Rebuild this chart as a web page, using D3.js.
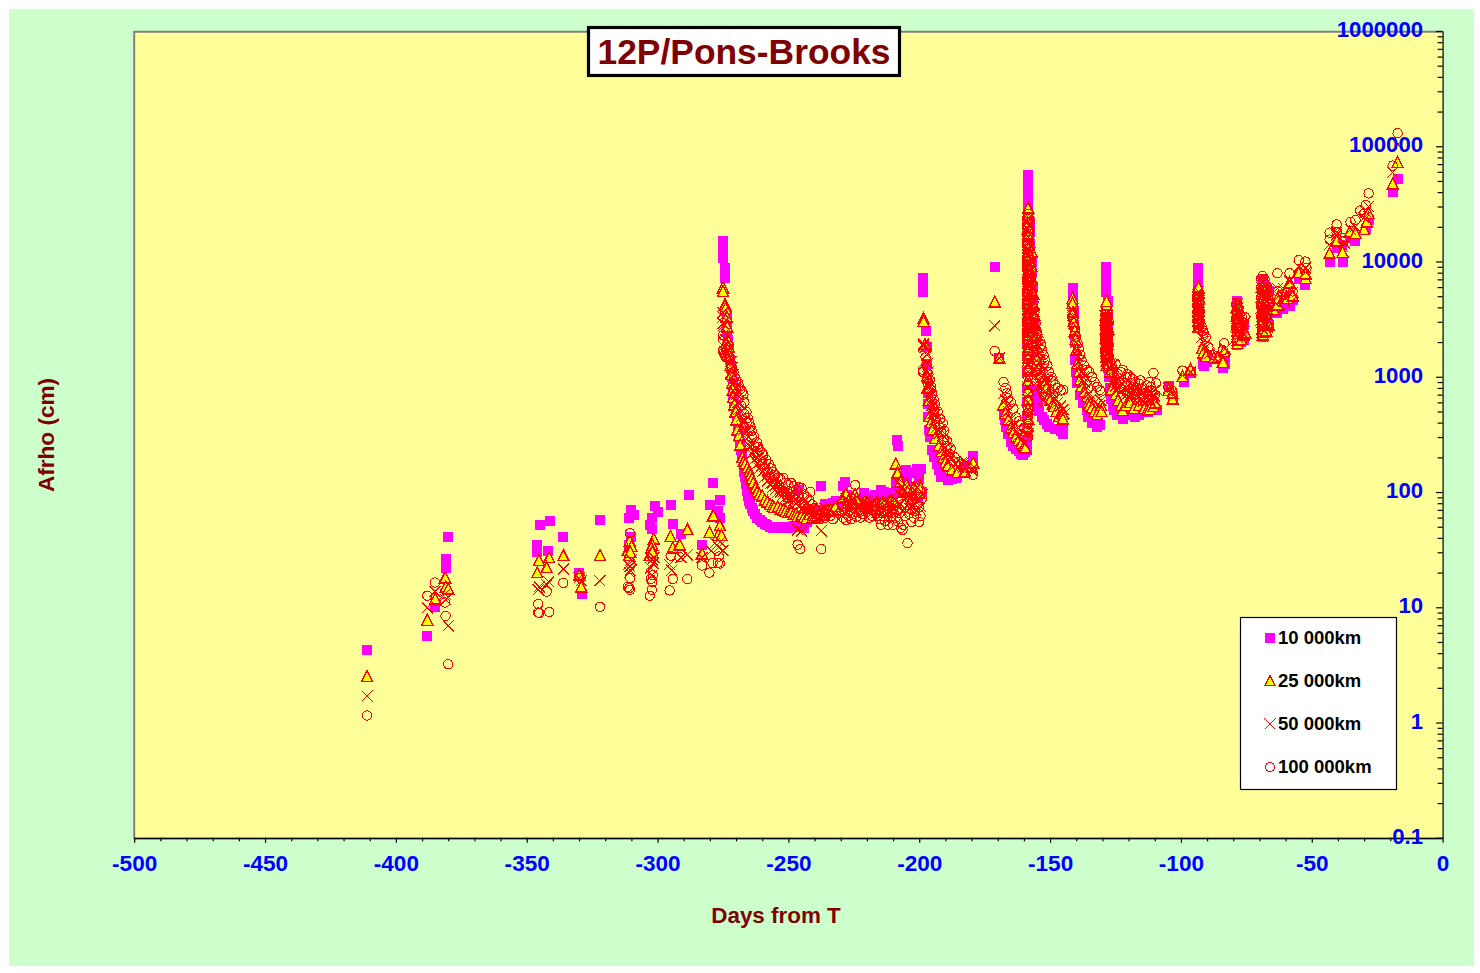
<!DOCTYPE html>
<html><head><meta charset="utf-8">
<style>html,body{margin:0;padding:0;background:#fff}svg{display:block}text{font-family:"Liberation Sans",Arial,sans-serif;font-weight:bold}</style>
<script src="https://cdn.jsdelivr.net/npm/d3@7"></script>
</head><body><div id="c"></div>
<script>
const titleText="12P/Pons-Brooks", xTitle="Days from T", yTitle="Afrho (cm)";
const xMajor=[-500,-450,-400,-350,-300,-250,-200,-150,-100,-50,0];
const yMajor=[0.1,1,10,100,1000,10000,100000,1000000];
const legendLabels=["10 000km","25 000km","50 000km","100 000km"];
// [days from T, Afrho cm]
const aperture10k=[[-411,4.27],[-388,5.6],[-385,10],[-381,26],[-381,22],[-380,41],[-345,52],[-341,56],[-346,35],[-346,30],[-342,31],[-336,41],[-330,20],[-329,13],[-322,57],[-310,70],[-311,60],[-309,63],[-311,35],[-310,41],[-301,76],[-300,67],[-302,60],[-303,52],[-302,48],[-295,77],[-294,53],[-291,43],[-288,95],[-283,35],[-280,77],[-279,120],[-276,85],[-277,68],[-276,60],
[-275,15000],[-275,13700],[-275,12100],[-275,10800],[-274.4,8800],[-274.4,8000],[-274.4,7200],[-273.6,3400],[-273.6,2950],[-273.3,2500],[-273,2100],[-272.6,1800],[-272.2,1400],[-272,1200],[-271.7,1000],[-271.3,810],[-271,690],[-270.6,600],[-270.2,495],[-269.8,420],[-269.4,345],[-269,300],[-268.6,265],[-268.2,232],[-267.8,205],[-267,150],[-266.6,134],[-266.2,118],[-265.8,102],[-265.5,92],[-265,84],[-264.5,78],[-264,72],[-263.4,68],[-262.8,64],[-262,60],[-261,57],[-260,55],[-259,53],[-258,52],[-257,50],[-256,49],[-255,50],[-254,49],[-253,49],[-252,50],[-251,50],[-250,49],[-249,50],[-248,51],[-247,50],[-246.5,104],[-246,53],[-245,51],[-244,49],[-243,55],[-242,58],[-241,60],[-240,62],[-239,70],[-238,66],[-237.4,113],[-236,78],[-235,72],[-233,80],[-232,84],[-231,76],
[-229.3,113],[-228.2,122],[-227.5,95],[-226.5,90],[-225.5,88],[-224,82],[-222.5,85],[-221,98],[-220,90],[-219,72],[-218,80],[-217,94],[-215.5,88],[-214.8,104],[-213.5,100],[-212.5,92],[-212,80],[-211,85],[-210,98],[-209,120],[-208.5,280],[-208,250],[-207,110],[-206,130],[-205,155],[-204.5,125],[-204,110],[-203,145],[-202,100],[-201,160],[-200.5,90],[-200,130],[-199.5,160],[-199,100],
[-198.6,7200],[-198.6,6600],[-198.6,5900],[-198.6,5400],[-197.4,2500],[-197.2,1800],[-197,1300],[-196.9,950],[-196.8,720],[-196.7,580],[-196.5,450],[-196.3,345],[-195.8,300],[-195,232],[-194.3,200],[-193.4,175],[-192.6,155],[-191.5,135],[-189.2,127],[-187.5,130],[-186,133],[-185.4,135],[-184,150],[-182.5,165],[-179.3,205],[-179.3,195],
[-171.2,8900],[-169.4,1450],[-167.8,470],[-167.3,420],[-166.8,370],[-166,320],[-165.1,270],[-164,250],[-163,238],[-162,225],[-161,215],[-160.3,210],[-159.5,222],
[-158.5,56000],[-158.5,50000],[-158.5,44000],[-158.5,38000],[-158.5,33000],[-158.5,28000],[-158.5,22000],[-158.5,16000],[-158.5,12000],[-158.5,9000],[-158.5,7000],[-158.5,5000],[-158.5,3800],[-158.3,2800],[-158.9,2000],[-158.9,1500],[-158.9,1100],[-158.9,800],[-158.9,600],[-158.9,450],[-158.9,350],[-158.9,280],[-158.9,230],[-157.5,22000],[-157.5,18000],[-157.5,14000],[-157,10000],[-157,8000],[-156.5,6000],[-156.5,4500],[-156,3000],[-156,2200],[-155.6,1500],[-155.6,1100],[-155.6,770],[-155,640],[-154.5,550],[-154.4,500],[-153,450],[-152.5,420],[-151,390],[-150.6,370],[-148,350],[-146,340],[-145,340],[-144.9,345],[-144.9,320],
[-141.4,5900],[-141.4,5200],[-141.4,4600],[-141,3700],[-140.8,2800],[-140.6,2000],[-140.3,1400],[-140,1100],[-139.6,880],[-138.5,700],[-137.5,590],[-136,510],[-135.5,445],[-134,400],[-132,365],[-131,380],
[-128.5,8900],[-128.5,7800],[-128.5,6700],[-128.5,5900],[-128.5,5400],[-128,4500],[-128,3500],[-128,2600],[-128,2000],[-127.8,1500],[-127.8,1200],[-127.5,1000],[-127,800],[-126.9,640],[-126,560],[-125.7,510],[-124.5,470],[-122.3,430],[-120,470],[-119,480],[-117.5,450],[-116,470],[-114,490],[-112.6,495],[-110,520],[-109,510],
[-104.7,830],[-103.2,680],[-99,900],[-96.3,1080],
[-93.3,8700],[-93.3,7800],[-93.3,7000],[-93.3,6000],[-93.3,5200],[-93.3,4500],[-93.3,3900],[-93.3,3500],[-93.3,3100],[-91.5,1300],[-91,1250],[-90,1350],[-88,1450],[-84,1200],[-83,1300],[-83,1500],
[-78.4,4500],[-78.4,4200],[-78.4,3800],[-78.4,3500],[-78.4,3200],[-78.4,2900],[-78.4,2600],[-78.4,2300],[-78.4,2100],[-78.4,1900],[-77,2000],[-77,2500],[-76,2100],[-76,2800],
[-68.8,7000],[-68.8,6400],[-68.8,5800],[-68.8,5200],[-68.8,4800],[-68.8,4300],[-68.8,3900],[-68.8,3500],[-68.8,3100],[-68.8,2800],[-68.8,2500],[-68.8,2200],[-67.5,6000],[-67.5,5000],[-67.5,4000],[-67.5,3000],[-67.5,2400],[-66.5,5500],[-66.5,3800],[-66.5,2800],[-63.1,3600],[-63.1,4200],[-60.8,3900],[-60.8,4500],[-58.5,4100],[-58.5,5000],[-57.3,4600],
[-55,7000],[-52.4,6200],[-52.4,7000],[-43.2,10000],[-40.5,13000],[-38.2,10000],[-38.5,14000],[-35.2,16000],[-33.3,15000],[-29.4,19000],[-28.3,23000],[-19.1,40000],[-17.2,52000]];
const aperture25k=[[-411,2.5],[-388,7.7],[-385,11.8],[-381.2,18],[-381,15],[-380,14.4],[-345.3,25.4],[-346,19.9],[-341.4,27],[-342.4,22],[-336,28],[-330,19],[-329.2,15],[-322,28],[-310.6,37.7],[-311.4,31],[-310,33.6],[-310.8,28],[-310.4,30],[-301.4,39],[-302,34.7],[-302.4,32.7],[-303,28],[-302,30],[-295,41],[-294.2,32.7],[-291.6,34.7],[-288.6,47],[-283,29],[-280.2,44.5],[-278.8,62],[-276.2,51],[-276.8,42],[-275.6,42],
[-275,5900],[-275,5500],[-274.2,4200],[-274,3900],[-273.6,3300],[-273.4,2700],[-273.2,2100],[-272.8,1800],[-272.5,1500],[-272.2,1250],[-271.8,1050],[-271.5,880],[-271.3,770],[-271.1,660],[-270.6,570],[-270.2,495],[-269.9,420],[-269.5,345],[-268.9,310],[-268.4,255],[-267.6,200],[-267,185],[-266.4,175],[-265.7,163],[-265,150],[-264.5,140],[-263.9,130],[-263.4,120],[-262.6,108],[-262,100],[-261,95],[-260,92],[-259,85],[-258,82],[-257,78],[-256,75],[-255.5,73],[-254,74],[-253,71],[-252,70],[-251,68],[-250,66],[-249,67],[-248,64],[-247,64],[-246.5,61],[-245,63],[-244,60],[-243,59],[-242,64],[-241,59],[-240,60],[-239,62],[-238,65],[-237,63],[-236,66],[-235,68],[-234,70],[-233,70],[-232,75],
[-229,90],[-228,95],[-227,85],[-226,80],[-225,92],[-224.5,95],[-224,88],[-222,75],[-221,82],[-220,80],[-219,72],[-218,76],[-217,78],[-216,82],[-215,75],[-214,82],[-212,78],[-211,82],[-210,82],[-209,175],[-208.3,146],[-207.2,122],[-206,100],[-205,115],[-204,104],[-203,88],[-202,110],[-201,95],[-200,98],[-199.5,110],
[-198.4,3200],[-198.4,3000],[-197.8,1900],[-197,1000],[-196.8,800],[-196.4,620],[-196.1,450],[-195.5,400],[-195,345],[-194,290],[-192.6,250],[-191.5,225],[-190.7,200],[-190,180],[-189.2,168],[-187.5,155],[-185.4,147],[-183,147],[-182.4,150],[-180,165],[-179.3,178],
[-171.2,4450],[-169.4,1450],[-167.8,570],[-167,480],[-166,420],[-165,360],[-164,330],[-163.2,300],[-162,280],[-161,260],[-160,245],[-159.5,240],
[-158.4,370],[-158.4,430],[-158.4,520],[-158.4,630],[-158.4,760],[-158.4,930],[-158.4,1150],[-158.4,1450],[-158.4,1700],[-158.4,2000],[-158.4,2150],[-158.4,2330],[-158.3,2480],[-158.4,2640],[-158.3,2790],[-158.4,3000],[-158.3,3170],[-158.4,3400],[-158.3,3590],[-158.4,3850],[-158.3,4050],[-158.4,4350],[-158.3,4600],[-158.4,4950],[-158.3,5200],[-158.4,5600],[-158.3,5900],[-158.4,6300],[-158.3,6700],[-158.4,7150],[-158.3,7500],[-158.4,8000],[-158.3,8500],[-158.4,9100],[-158.3,9500],[-158.4,10200],[-158.3,10700],[-158.4,11500],[-158.3,12100],[-158.4,13000],[-158.3,13800],[-158.4,14600],[-158.3,15500],[-158.4,16500],[-158.3,17300],[-158.4,18600],[-158.3,19500],[-158.4,20900],[-158.4,22200],[-158.4,23600],[-158.4,25000],[-158.4,26500],[-158.4,29000],
[-157,12000],[-157,9000],[-157,7000],[-156.5,5200],[-156.5,4200],[-156,3400],[-156,2800],[-155.5,2300],[-155,1800],[-154.5,1500],[-154.4,1150],[-153.5,1050],[-152.5,940],[-152,880],[-151.5,800],[-150.6,670],[-150,620],[-149,580],[-148.6,550],[-147.5,500],[-146.7,450],[-145.5,480],[-145,470],[-145.2,430],
[-141.4,4800],[-141.4,4300],[-141.2,3600],[-141,3000],[-140.6,2500],[-140.3,2100],[-140,1700],[-139.6,1300],[-139,1100],[-138.7,940],[-138,820],[-137,740],[-136,670],[-135.5,590],[-135,560],[-134,535],[-133,500],[-132,470],[-130.5,560],[-130.3,500],
[-128.4,1250],[-128.3,1370],[-128.4,1480],[-128.3,1600],[-128.4,1700],[-128.3,1850],[-128.4,1960],[-128.3,2100],[-128.4,2230],[-128.3,2400],[-128.4,2550],[-128.3,2720],[-128.4,2900],[-128.3,3080],[-128.4,3270],[-128.3,3480],[-128.4,3700],[-128.4,3950],[-128.4,4200],[-128.4,4500],[-127.5,1300],[-127,1100],[-126.5,770],[-125,700],[-124,620],[-123,560],[-122.3,510],[-121,560],[-119.5,600],[-118,530],[-116,560],[-114,530],[-113,510],[-112,520],[-110.5,550],[-109.8,590],
[-104.8,760],[-103.2,640],[-103.2,720],[-99.4,1000],[-96.3,1150],
[-93.3,2700],[-93.2,2880],[-93.3,3050],[-93.2,3260],[-93.3,3450],[-93.2,3700],[-93.3,3900],[-93.2,4180],[-93.3,4420],[-93.2,4700],[-93.3,5000],[-93.2,5300],[-93.3,5650],[-93.3,6000],[-92,1750],[-91.5,1600],[-90.5,1500],[-87.5,1450],[-86,1450],[-84,1330],[-83.5,1650],
[-78.4,1950],[-78.3,2080],[-78.4,2210],[-78.3,2360],[-78.4,2500],[-78.3,2680],[-78.4,2830],[-78.3,3020],[-78.4,3210],[-78.3,3430],[-78.4,3650],[-78.4,3900],[-78.4,4100],[-77,2100],[-76,2300],[-75.5,2400],
[-68.8,2300],[-68.7,2450],[-68.8,2600],[-68.7,2780],[-68.8,2950],[-68.7,3150],[-68.8,3340],[-68.7,3560],[-68.8,3800],[-68.7,4050],[-68.8,4300],[-68.7,4580],[-68.8,4850],[-68.7,5150],[-68.8,5500],[-68.8,6000],[-67.4,2500],[-67.4,3000],[-66.5,2800],[-64.5,3800],[-63.1,4200],[-63.1,4800],[-60.8,4900],[-59.3,4800],[-58.5,6500],[-57.3,5000],
[-55,8000],[-52.4,7100],[-52.4,7800],[-43.2,11800],[-40.5,15000],[-38.2,12000],[-35.5,18000],[-33.3,17500],[-30,19000],[-29,22000],[-28.3,26000],[-19.1,47000],[-17.2,72000]];
const aperture50k=[[-411,1.7],[-388,9.9],[-385,13.7],[-381.2,13],[-381,11.6],[-380,6.9],[-345.6,14.2],[-345.2,15],[-342.4,15.7],[-341.6,16.6],[-336,21.5],[-330,18],[-329.2,17],[-322,17],[-310.6,22.5],[-311.2,23.5],[-310,25.8],[-310.4,21],[-310.8,20],[-301.4,27],[-302,25.8],[-302.6,22],[-302.2,19],[-301.8,24],[-295.4,23.5],[-294.6,21],[-291,27],[-288.6,28.5],[-283,27],[-279.5,31],[-278,36],[-276,37],[-276.8,33],[-275,31],
[-275,3600],[-275,3300],[-275,2900],[-274.6,2800],[-274.2,2400],[-273.8,2100],[-273.4,1900],[-273,1700],[-272.6,1500],[-272,1350],[-271.6,1200],[-271,1050],[-270.6,900],[-270.2,800],[-269.8,700],[-269.4,600],[-269,520],[-268,450],[-267.5,400],[-267,350],[-266.5,320],[-266,290],[-265.5,260],[-265,240],[-264,215],[-263,190],[-262,175],[-261,160],[-260,150],[-259,135],[-258,125],[-257,118],[-256,110],[-255,105],[-254,100],[-253,100],[-252,95],[-251,90],[-250,92],[-249,88],[-248,84],[-247,87],[-246.5,47],[-245,46],[-244,82],[-243,78],[-242,75],[-241,72],[-240,68],[-239,65],[-238,70],[-237.4,46],[-236,72],[-235,68],[-234,72],[-233,65],
[-272,1100],[-271,860],[-270,720],[-269,600],[-268,510],[-267,410],[-266,340],[-265,300],[-264,260],[-263,230],[-262,200],[-261,180],[-260,170],[-259,155],[-258,140],[-257,130],[-256,120],[-255,115],[-254,110],[-253,108],[-252,100],[-251,102],[-250,85],[-249,95],[-248,90],[-247,80],[-246,75],[-245,72],[-244,70],[-243,68],[-242,66],[-241,64],
[-229,78],[-228,88],[-227,75],[-226,82],[-225,72],[-224,90],[-223,78],[-222,68],[-221,75],[-220,72],[-219,68],[-218,72],[-217,70],[-216,78],[-215,70],[-214,75],[-213,72],[-212,72],[-211,68],[-210,75],[-209,85],[-208,120],[-207,95],[-206,105],[-205,88],[-204,78],[-203,90],[-202,80],[-201,110],[-200,88],[-199.5,75],
[-229.5,70],[-228.5,66],[-227.5,82],[-226.5,70],[-225.5,84],[-224.5,68],[-223.5,88],[-222.5,74],[-221.5,66],[-220.5,84],[-219.5,76],[-218.5,64],[-217.5,80],[-216.5,66],[-215.5,82],[-214.5,64],[-213.5,84],[-212.5,66],[-211.5,78],[-210.5,62],[-209.5,72],[-208.5,100],[-207.5,80],[-206.5,68],[-205.5,115],[-204.5,98],[-203.5,72],[-202.5,100],[-201.5,70],[-200.5,125],[-200,72],[-199,95],
[-198.4,1900],[-198.4,1950],[-198.4,1850],[-197.8,1800],[-197,1300],[-196.6,1100],[-196,900],[-195.5,750],[-195,620],[-194.5,520],[-194,470],[-193,400],[-192,350],[-191,310],[-190,270],[-189,230],[-188,200],[-186,175],[-185,165],[-183,165],[-182,160],[-180,155],
[-197.2,1550],[-196.8,1000],[-196.4,820],[-195.8,680],[-195.2,560],[-194.8,480],[-194.2,420],[-193.5,360],[-192.5,320],[-191.5,280],[-190.5,240],[-189.5,210],[-188.5,185],[-184,180],[-183.5,170],[-182.5,185],
[-171.2,2770],[-169.4,1450],[-167.8,720],[-167,630],[-166.5,560],[-166,500],[-165,430],[-164,380],[-163,340],[-162,310],[-161,285],[-160,265],
[-158.5,15000],[-158.5,13000],[-158.5,11500],[-158.5,10000],[-158.5,9000],[-158.5,8000],[-158.5,7000],[-158.5,6200],[-158.5,5500],[-158.5,4800],[-158.5,4300],[-158.5,3800],[-158.5,3300],[-158.5,2900],[-158.5,2600],[-158.5,2300],[-158.5,2000],[-158.5,1800],[-158.5,1600],[-158.5,1400],[-158.5,1250],[-158.5,1100],[-158.5,950],[-158.5,820],[-158.5,700],[-158.5,600],[-158.5,520],[-158.5,450],[-158.5,380],[-158.5,320],[-157.5,12000],[-157.5,10000],[-157.5,8500],[-157,7000],[-157,6000],[-156.5,5000],[-156.5,4200],[-156,3500],[-156,3000],[-155.5,2700],[-155.5,2300],[-155,2100],[-155,1900],[-154.5,1800],[-154,1600],[-153.5,1400],[-153,1250],[-152.5,1150],[-152,1050],[-151.5,950],[-151,880],[-150,800],[-149,720],[-148,650],[-147,600],[-146,560],[-145,520],[-144.5,480],
[-158.2,24000],[-158.6,22000],[-158.1,20500],[-158.7,19000],[-158.2,17800],[-158.6,16500],[-158.1,14100],[-158.7,12300],[-158.2,10800],[-158.6,9500],[-158.1,8500],[-158.7,7500],[-158.2,6600],[-158.6,5900],[-158.1,5100],[-158.7,4500],[-158.2,4000],[-158.6,3500],[-158.1,3100],[-158.7,2750],[-158.2,2450],[-158.6,2150],[-158.1,1900],[-157.9,11000],[-157.6,9300],[-157.9,7700],[-157.4,6400],[-157.8,5400],[-157.2,4600],[-157.7,3900],[-157.2,3300],[-157.5,2850],[-157,2500],[-157.4,2100],[-156.6,1700],[-157,1500],[-156.4,1300],[-156,1150],[-155.6,1000],[-155,900],[-154.5,830],[-154,760],[-153.4,700],[-152.6,640],[-152,600],
[-141.4,3800],[-141.4,3400],[-141,2900],[-140.6,2400],[-140.2,2000],[-139.8,1700],[-139.4,1500],[-139,1350],[-138.4,1200],[-138,1100],[-137.4,1000],[-136.8,900],[-136,800],[-135,720],[-134,650],[-133,600],[-132,570],[-131,560],[-130.5,620],
[-128.4,3600],[-128.4,3300],[-128.4,3000],[-128.4,2800],[-128.4,2600],[-128.4,2400],[-128.4,2200],[-128.4,2000],[-128.4,1850],[-128.4,1700],[-128.4,1550],[-128.4,1400],[-127.6,2600],[-127.6,2100],[-127.6,1700],[-127.6,1400],[-127,1200],[-126.5,1050],[-126,900],[-125,830],[-124,780],[-123,750],[-122,700],[-121,800],[-120,720],[-119,700],[-118,760],[-117,680],[-116,720],[-115,640],[-114,700],[-113,660],[-112,640],[-111,650],[-110,680],[-109.5,780],
[-129,3400],[-128.8,3100],[-128.9,2900],[-128.7,2700],[-129,2500],[-128.8,2300],[-128.9,2100],[-128.7,1950],[-129,1750],[-128.8,1600],[-128.9,1500],[-128.1,3200],[-128,2900],[-128.1,2500],[-127.9,2300],[-128.1,1950],[-128,1800],[-127.9,1550],[-126.4,1250],[-125.6,950],[-124.5,900],[-123.5,820],[-122.5,880],[-121.5,680],[-120.5,840],[-119.5,650],[-118.5,820],[-117.5,620],[-116.5,810],[-115.5,700],[-114.5,610],[-113.5,760],[-112.5,720],[-111.5,600],[-110.5,760],
[-104.8,800],[-103.5,720],[-99.4,1020],[-96.3,1100],
[-93.3,5500],[-93.3,5000],[-93.3,4600],[-93.3,4200],[-93.3,3800],[-93.3,3500],[-93.3,3200],[-93.3,2900],[-92,2200],[-91.5,2000],[-90.5,1800],[-89,1600],[-87.5,1480],[-84,1500],[-83,1750],
[-93.7,5200],[-93,4800],[-93.7,4400],[-93,4000],[-93.7,3650],[-93,3350],[-93.7,3050],[-93,2750],
[-78.4,4300],[-78.4,3900],[-78.4,3500],[-78.4,3200],[-78.4,2900],[-78.4,2600],[-78.4,2400],[-78.4,2200],[-77,2600],[-77,2200],[-76,2700],[-75.5,3000],
[-78.9,4000],[-78,3700],[-78.9,3350],[-78,3050],[-78.9,2750],[-78,2500],[-78.9,2300],[-77.5,3300],[-77.5,2900],[-76.8,3200],[-76.5,2400],
[-68.8,6500],[-68.8,5800],[-68.8,5100],[-68.8,4600],[-68.8,4100],[-68.8,3700],[-68.8,3300],[-68.8,2900],[-68.8,2600],[-67.5,5500],[-67.5,4500],[-67.5,3600],[-67.5,2900],[-66.5,4800],[-66.5,3400],[-64.5,4500],[-63.1,5200],[-63.1,5800],[-60.8,5000],[-60.8,5800],[-58.5,6800],[-57.3,5400],
[-69.4,6000],[-68.2,5500],[-69.4,4900],[-68.2,4400],[-69.4,3950],[-68.2,3500],[-69.4,3100],[-68.2,2800],[-67,5100],[-67,4100],[-67,3200],[-66.9,2700],
[-55,9000],[-52.4,8000],[-52.4,8800],[-43.2,14000],[-40.5,17000],[-40.5,18000],[-38.2,13500],[-37.5,14500],[-35.2,19000],[-33.3,20000],[-30,24000],[-29.4,27000],[-28.3,30000],[-19.1,59000],[-17.2,104000]];
const aperture100k=[[-411,1.15],[-388,12.6],[-385,16.4],[-381.2,11],[-381,8.4],[-380,3.2],[-345.6,10.7],[-345.6,9],[-345.2,8.9],[-342.4,13.7],[-341.4,9.1],[-336,16.3],[-330,19],[-329.4,18],[-322,10.1],[-310.6,44],[-310.4,18],[-311.4,15],[-310.5,14.2],[-310.8,14.7],[-302.6,17.6],[-301.8,19],[-302,16.6],[-302.2,14.2],[-303,12.6],[-295,28],[-294.2,17.6],[-295.4,14],[-291.6,27.3],[-288.6,17.6],[-283,23],[-280.2,20],[-279,24.2],[-276.6,27.6],[-277,24.2],[-276.2,24],
[-275,2300],[-275,2100],[-275,1700],[-275,1650],[-274.8,1600],[-274.4,1550],[-274,1500],[-274,1800],[-273.6,1700],[-273.2,1600],[-272.8,1500],[-272.4,1400],[-272,1300],[-271.6,1200],[-271,1100],[-270.6,1000],[-270,950],[-269.4,900],[-269,840],[-268.4,780],[-267.6,745],[-267.2,700],[-266.8,600],[-266,495],[-265.6,440],[-265,400],[-264.5,370],[-264,340],[-263,300],[-262,270],[-261.5,245],[-261,230],[-260,220],[-259.6,210],[-258.5,190],[-257.5,175],[-256.5,160],[-256,150],[-255,140],[-254,133],[-253,130],[-252,133],[-251,120],[-250,115],[-249,120],[-248,112],[-247,105],[-246,110],[-246.5,35],[-245.5,32],[-245,108],[-244,95],[-243,90],[-242,85],[-241.6,100],[-241,78],[-240,72],[-239,68],[-238,65],[-237.4,32],[-236,60],[-235,65],[-234,62],[-233,58],
[-270,800],[-269,650],[-268,560],[-267,480],[-266,400],[-265,340],[-264,300],[-263,250],[-262,215],[-261,190],[-260,175],[-259,160],[-258,150],[-257,135],[-256,125],[-255,118],[-254,110],[-253,105],[-252,100],[-251,95],[-250,88],[-249,100],[-248,92],[-247,85],[-246,90],[-245,82],[-244,78],[-243,72],[-242,70],[-241,65],[-240,60],[-239,60],[-238,58],
[-229,60],[-228,57],[-227,62],[-226,58],[-225,65],[-224.5,115],[-224,61],[-223,70],[-222,68],[-221,75],[-220,72],[-219,60],[-218,62],[-217,68],[-216,62],[-215,58],[-214.6,52],[-213,56],[-212,52],[-211,60],[-210,52],[-209,60],[-208,55],[-207,49],[-206.4,47],[-206,52],[-204.5,36],[-204,65],[-203,55],[-202,60],[-201,78],[-200,55],[-199.5,62],
[-229.5,75],[-228.5,66],[-227.5,78],[-226.5,70],[-225.5,80],[-224.5,72],[-223.5,82],[-222.5,60],[-221.5,64],[-220.5,84],[-219.5,76],[-218.5,82],[-217.5,74],[-216.5,70],[-215.5,66],[-214.5,78],[-213.5,68],[-212.5,64],[-211.5,74],[-210.5,66],[-209.5,76],[-208.5,70],[-207.5,66],[-206.5,78],[-205.5,62],[-204.5,90],[-203.5,72],[-202.5,85],[-201.5,68],[-200.5,105],[-200,74],[-199,88],
[-198.6,1150],[-198.6,1100],[-197.6,1470],[-197,1220],[-196.5,1050],[-196,930],[-195.5,820],[-195,720],[-194.5,630],[-194,580],[-193,500],[-192,430],[-191,395],[-190.5,340],[-189.5,280],[-188,240],[-186.5,200],[-185,182],[-184,175],[-183,172],[-181,160],[-179.5,141],
[-197.4,1250],[-196.8,870],[-196.2,760],[-195.6,660],[-195,570],[-194.4,500],[-193.6,430],[-192.6,380],[-191.6,330],[-190.6,285],[-189.6,250],[-188.6,215],
[-171.2,1680],[-169.4,1450],[-167.8,900],[-167,800],[-166.5,720],[-166,650],[-165,600],[-164,530],[-163,445],[-162,410],[-161,380],[-160,360],[-159.3,330],
[-158.4,8500],[-158.4,7500],[-158.4,6600],[-158.4,5900],[-158.4,5200],[-158.4,4700],[-158.4,4200],[-158.4,3800],[-158.4,3400],[-158.4,3000],[-158.4,2700],[-158.4,2400],[-158.4,2100],[-158.4,1900],[-158.4,1700],[-158.4,1500],[-158.4,1300],[-158.4,1150],[-158.4,1000],[-158.4,850],[-158.4,720],[-158.4,620],[-158.4,530],[-158.4,450],[-158.4,390],[-158.4,340],[-158.4,300],[-157.4,7000],[-157.4,6000],[-157,5500],[-157,4800],[-156.4,4400],[-156.4,4000],[-156,3600],[-156,3200],[-155.5,2900],[-155.5,2600],[-155,2400],[-155,2200],[-154,2080],[-153.5,1900],[-153,1700],[-152.5,1550],[-152,1400],[-151,1250],[-150.5,1100],[-149.5,1000],[-149,920],[-148,850],[-147,800],[-146,760],[-145,770],
[-158.2,26000],[-158.6,23500],[-158.3,21500],[-158.7,19800],[-158.2,18200],[-158.6,16800],[-158.3,15400],[-158.7,14100],[-158.2,13000],[-158.6,12000],[-158.3,11100],[-158.7,10200],[-158.2,9500],[-158.6,8900],[-158.3,8000],[-158.7,7000],[-158.2,6200],[-158.6,5500],[-158.3,4900],[-158.7,4400],[-158.2,3600],[-158.6,3200],[-158.3,2850],[-158.7,2550],[-158.2,2250],[-157.7,10500],[-157.4,9000],[-157.7,7800],[-157.2,6500],[-157.6,5700],[-157,5100],[-157.4,4500],[-156.8,4100],[-157.2,3400],[-156.8,3000],[-157.1,2600],[-156.6,2300],[-156.8,1900],[-156.4,1600],[-155.8,1400],[-155,1250],[-154.4,1150],[-153.6,1000],[-152.8,920],[-152.1,840],
[-141.4,3600],[-141.4,3200],[-141,2900],[-140.8,2700],[-140.6,2500],[-140,2200],[-139.5,1950],[-139,1750],[-138.5,1550],[-138,1400],[-137,1250],[-136,1150],[-135,1100],[-134,1000],[-133,900],[-132,820],[-131,770],[-130.5,745],
[-128.4,3200],[-128.4,3000],[-128.4,2800],[-128.4,2600],[-128.4,2400],[-128.4,2200],[-128.4,2000],[-128.4,1850],[-128.4,1700],[-128.4,1550],[-128.4,1400],[-128.4,1250],[-127.6,3000],[-127.6,2400],[-127.6,1900],[-127.6,1500],[-127,1350],[-126.5,1250],[-126,1150],[-125,1300],[-124,1050],[-123,1100],[-122.3,1150],[-121,1000],[-120.5,1050],[-119.5,1000],[-118.5,950],[-117.5,900],[-117,800],[-116,870],[-115,780],[-114,760],[-113,840],[-112,900],[-111,760],[-110.5,1080],[-110,690],[-109.5,880],
[-129,3100],[-128.8,2900],[-128.9,2700],[-128.7,2500],[-129,2300],[-128.8,2100],[-128.9,1950],[-128.7,1800],[-129,1650],[-128.8,1500],[-128,2950],[-128.1,2650],[-127.9,2250],[-128.1,2050],[-128,1750],[-127.9,1600],[-126.4,1050],[-125.6,1000],[-124.5,850],[-123.5,900],[-122.5,780],[-121.5,880],[-120.2,720],[-119,880],[-118,760],[-116.5,740],[-115.5,930],[-114.5,660],[-113.5,720],[-112.5,680],[-111.5,820],[-110.8,640],
[-104.8,820],[-103.5,760],[-99.4,1130],[-96.3,1120],
[-93.3,5000],[-93.3,4700],[-93.3,4400],[-93.3,4100],[-93.3,3800],[-93.3,3500],[-93.3,3200],[-93.3,2900],[-93.3,2700],[-92,2700],[-91.5,2500],[-91.2,2400],[-90.5,2200],[-89.5,1800],[-88,1550],[-86.5,1500],[-84,1700],[-83.5,1950],
[-93.7,4850],[-93,4550],[-93.7,4250],[-93,3950],[-93.7,3650],[-93,3350],[-93.7,3050],[-93,2800],
[-78.4,4400],[-78.4,4100],[-78.4,3800],[-78.4,3500],[-78.4,3200],[-78.4,3000],[-78.4,2800],[-78.4,2600],[-77.5,3000],[-77.5,2700],[-76.5,3000],[-76.5,2600],[-75.5,3300],
[-78.9,4250],[-78,3950],[-78.9,3650],[-78,3350],[-78.9,3100],[-78,2900],[-78.9,2700],[-77.5,3500],[-76.8,3300],
[-68.8,7500],[-68.8,6800],[-68.8,6200],[-68.8,5600],[-68.8,5100],[-68.8,4700],[-68.8,4300],[-68.8,3900],[-68.8,3500],[-68.8,3100],[-68.8,2800],[-68,7000],[-68,5200],[-68,4200],[-68,3400],[-67,6000],[-67,4000],[-67,3200],[-66.6,5000],[-63.1,7900],[-63,5500],[-61,5200],[-60.5,4300],[-58.5,7900],[-58,5000],[-57.3,5500],
[-69.4,7100],[-68.2,6500],[-69.4,5900],[-68.2,5400],[-69.4,4900],[-68.2,4500],[-69.4,4100],[-68.2,3700],[-69.4,3300],[-68.2,3000],[-67,5500],[-67,4500],[-67,3600],[-66.6,2900],
[-55,10300],[-52.4,10000],[-52,8800],[-43.2,17800],[-43.2,15500],[-40.5,21000],[-40.5,18000],[-38.2,16000],[-37.8,15000],[-35.2,22000],[-33.3,23000],[-31.5,27700],[-29.4,31000],[-30,26000],[-28.3,39000],[-19.1,68000],[-17.2,130000]];

const W=1480,H=973,L=134.2,R=1442.6,T=31,B=837.8;
const svg=d3.select("#c").append("svg").attr("width",W).attr("height",H);
const x=d3.scaleLinear().domain([-500,0]).range([L,R]);
const y=d3.scaleLog().domain([0.1,1000000]).range([B,T]);
svg.append("rect").attr("x",9).attr("y",9).attr("width",1465).attr("height",957).attr("fill","#ccffcc");
svg.append("rect").attr("x",L).attr("y",T).attr("width",R-L).attr("height",B-T).attr("fill","#ffff99");
svg.append("path").attr("d",`M${L},${B+1}L${L},${T+.8}L${R},${T+.8}M${L},${B+1}L${R},${B+1}`).attr("fill","none").attr("stroke","#808080").attr("stroke-width",2);

const RED="#ff0000";
function square(g,s){g.append("rect").attr("x",-s/2).attr("y",-s/2).attr("width",s).attr("height",s).attr("fill","#ff00ff").attr("stroke","none");}
function triangle(g,s){g.append("path").attr("d",`M0,${-s*.55}L${s*.5},${s*.45}L${-s*.5},${s*.45}Z`).attr("fill","#ffff00").attr("stroke",RED).attr("stroke-width",1.4);}
function cross(g,s){g.append("path").attr("d",`M${-s/2},${-s/2}L${s/2},${s/2}M${-s/2},${s/2}L${s/2},${-s/2}`).attr("fill","none").attr("stroke",RED).attr("stroke-width",1);}
function ring(g,s){g.append("circle").attr("r",s/2).attr("fill","none").attr("stroke",RED).attr("stroke-width",1);}
const series=[[aperture10k,square,10],[aperture25k,triangle,11],[aperture50k,cross,11],[aperture100k,ring,9.4]];
series.forEach(([rows,draw,size],i)=>{
  const g=svg.append("g").attr("class","series s"+i).attr("shape-rendering","crispEdges");
  g.selectAll("g").data(rows).join("g")
   .attr("transform",d=>`translate(${x(d[0])},${y(d[1])})`)
   .each(function(){draw(d3.select(this),size);});
});

// axes
const fmt=d=>String(d);
const xMinorVals=d3.range(-500,1,10).filter(v=>v%50!==0);
const gxMinor=svg.append("g").attr("transform",`translate(0,${B})`).call(d3.axisBottom(x).tickValues(xMinorVals).tickSize(3.5).tickFormat(""));
const gx=svg.append("g").attr("transform",`translate(0,${B})`).call(d3.axisBottom(x).tickValues(xMajor).tickSize(5).tickSizeOuter(0).tickFormat(fmt));
gx.selectAll("text").attr("y",33).attr("dy",0).attr("font-size",22.6).attr("fill","#0000ff").style("font-family",'"Liberation Sans",Arial,sans-serif').style("font-weight","bold");
gxMinor.select(".domain").remove();

const yMinorVals=[];
yMajor.slice(0,-1).forEach(m=>[2,3,4,5,6,7,8,9].forEach(k=>yMinorVals.push(m*k)));
const gyMinor=svg.append("g").attr("transform",`translate(${R},0)`).call(d3.axisLeft(y).tickValues(yMinorVals).tickSize(5).tickFormat(""));
const gy=svg.append("g").attr("transform",`translate(${R},0)`).call(d3.axisLeft(y).tickValues(yMajor).tickSize(6.5).tickSizeOuter(0).tickPadding(13).tickFormat(fmt));
gy.selectAll("text").attr("dy",".25em").attr("font-size",22.2).attr("fill","#0000ff").style("font-family",'"Liberation Sans",Arial,sans-serif').style("font-weight","bold");
gyMinor.select(".domain").remove();
svg.selectAll(".domain,.tick line").attr("stroke","#000").attr("stroke-width",1.2);

// titles
svg.append("text").attr("x",776).attr("y",923).attr("text-anchor","middle").attr("font-size",22.4).attr("fill","#800000").text(xTitle);
svg.append("text").attr("transform","translate(54,435) rotate(-90)").attr("text-anchor","middle").attr("font-size",22.6).attr("fill","#800000").text(yTitle);
svg.append("rect").attr("x",588.5).attr("y",27.5).attr("width",311).attr("height",48).attr("fill","#fff").attr("stroke","#000").attr("stroke-width",3.2);
svg.append("text").attr("x",744).attr("y",63.5).attr("text-anchor","middle").attr("font-size",35.4).attr("fill","#800000").text(titleText);

// legend
svg.append("rect").attr("x",1240.5).attr("y",617.5).attr("width",156).attr("height",172).attr("fill","#fff").attr("stroke","#000").attr("stroke-width",1.2);
const legendY=[638,681,724,767], legendBase=[643.6,686.8,730,772.8];
series.forEach(([,draw,size],i)=>{
  const g=svg.append("g").attr("transform",`translate(1270,${legendY[i]})`).attr("shape-rendering","crispEdges");
  draw(g,i===3?9:(i===1?10:size));
  svg.append("text").attr("x",1278).attr("y",legendBase[i]).attr("font-size",18.5).attr("fill","#000").text(legendLabels[i]);
});
</script></body></html>
